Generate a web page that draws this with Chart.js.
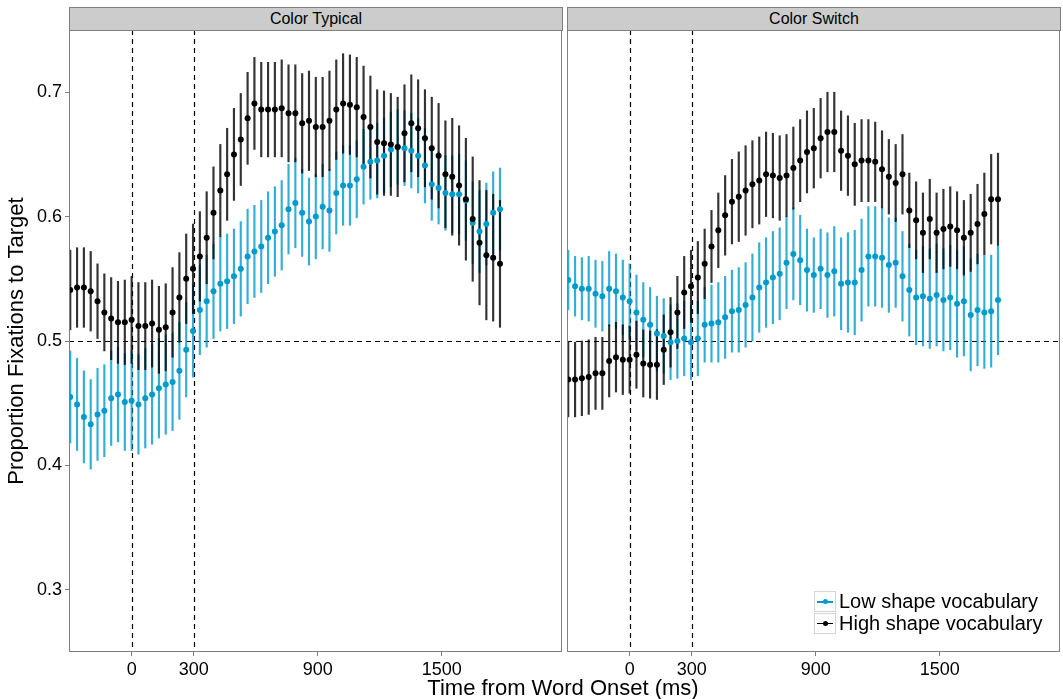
<!DOCTYPE html>
<html>
<head>
<meta charset="utf-8">
<script src="https://cdn.jsdelivr.net/npm/chart.js@4.4.0/dist/chart.umd.min.js"></script>
<style>
  body { margin: 0; background: #fff; width: 1063px; height: 699px; overflow: hidden; position: relative;
         font-family: "Liberation Sans", Arial, sans-serif; }
  .strip { position: absolute; top: 7px; height: 24px; box-sizing: border-box; background: #cccccc;
           border: 1px solid #7f7f7f; text-align: center; font-size: 16px; line-height: 22px; color: #000; }
  .panel { position: absolute; top: 30px; }
  .panel canvas { display: block; }
  #xtitle { position: absolute; left: 0; width: 1126px; top: 677px; text-align: center; font-size: 22px; line-height: 22px; }
  #legend { position: absolute; left: 814px; top: 591px; }
  .row { height: 21.5px; display: flex; align-items: center; }
  .key { position: relative; width: 22px; height: 21px; box-sizing: border-box; border: 1px solid #d4d4d4; background: #fff; margin-right: 3px; }
  .key .ln { position: absolute; left: 2px; right: 2px; top: 9px; height: 1.5px; }
  .key .dot { position: absolute; left: 8px; top: 7px; width: 5px; height: 5px; border-radius: 50%; }
  .lab { font-size: 20px; line-height: 21px; }
</style>
</head>
<body>
<div class="strip" style="left:69px;width:494px;">Color Typical</div>
<div class="strip" style="left:567px;width:494px;">Color Switch</div>
<div class="panel" style="left:0;"><canvas id="typical" width="563" height="669"></canvas></div>
<div class="panel" style="left:566px;"><canvas id="switch" width="497" height="669"></canvas></div>
<div id="xtitle">Time from Word Onset (ms)</div>
<div id="legend"></div>
<script>
// time bins (ms from word onset)
const TIME = [-297, -264, -231, -198, -165, -132, -99, -66, -33, 0, 33, 66, 99, 132, 165, 198,
  231, 264, 297, 330, 363, 396, 429, 462, 495, 528, 561, 594, 627, 660, 693, 726, 759, 792, 825,
  858, 891, 924, 957, 990, 1023, 1056, 1089, 1122, 1155, 1188, 1221, 1254, 1287, 1320, 1353, 1386,
  1419, 1452, 1485, 1518, 1551, 1584, 1617, 1650, 1683, 1716, 1749, 1782];

// Color Typical
const typicalLow = [0.455, 0.449, 0.439, 0.433, 0.441, 0.444, 0.454, 0.457, 0.451, 0.452, 0.449,
  0.454, 0.457, 0.462, 0.465, 0.467, 0.476, 0.493, 0.508, 0.525, 0.532, 0.540, 0.546, 0.548, 0.552,
  0.558, 0.568, 0.572, 0.576, 0.583, 0.588, 0.593, 0.606, 0.611, 0.603, 0.596, 0.600, 0.608, 0.605,
  0.619, 0.625, 0.625, 0.630, 0.640, 0.644, 0.645, 0.649, 0.654, 0.656, 0.655, 0.653, 0.649, 0.641,
  0.626, 0.623, 0.619, 0.618, 0.618, 0.613, 0.595, 0.588, 0.594, 0.603, 0.606];
const typicalLowErr = [0.037, 0.037, 0.037, 0.036, 0.037, 0.037, 0.038, 0.038, 0.039, 0.040, 0.040,
  0.040, 0.040, 0.040, 0.040, 0.039, 0.039, 0.038, 0.037, 0.036, 0.037, 0.038, 0.038, 0.038, 0.038,
  0.038, 0.038, 0.037, 0.037, 0.037, 0.036, 0.036, 0.036, 0.036, 0.035, 0.035, 0.034, 0.034, 0.033,
  0.033, 0.032, 0.032, 0.031, 0.030, 0.030, 0.030, 0.030, 0.030, 0.030, 0.030, 0.030, 0.030, 0.030,
  0.029, 0.029, 0.030, 0.031, 0.032, 0.032, 0.033, 0.033, 0.033, 0.033, 0.033];
const typicalHigh = [0.541, 0.543, 0.543, 0.540, 0.532, 0.523, 0.518, 0.515, 0.515, 0.517, 0.512,
  0.512, 0.514, 0.509, 0.511, 0.523, 0.535, 0.550, 0.558, 0.568, 0.583, 0.603, 0.621, 0.634, 0.650,
  0.662, 0.679, 0.691, 0.686, 0.686, 0.686, 0.687, 0.683, 0.683, 0.675, 0.677, 0.672, 0.672, 0.677,
  0.686, 0.691, 0.690, 0.688, 0.680, 0.672, 0.660, 0.659, 0.658, 0.656, 0.667, 0.675, 0.671, 0.663,
  0.655, 0.649, 0.634, 0.632, 0.625, 0.614, 0.598, 0.579, 0.569, 0.567, 0.562];
const typicalHighErr = [0.032, 0.032, 0.032, 0.032, 0.030, 0.031, 0.033, 0.033, 0.034, 0.035, 0.035,
  0.035, 0.035, 0.035, 0.035, 0.036, 0.036, 0.036, 0.036, 0.036, 0.037, 0.037, 0.037, 0.037, 0.037,
  0.037, 0.037, 0.037, 0.038, 0.038, 0.038, 0.039, 0.039, 0.039, 0.040, 0.040, 0.040, 0.040, 0.040,
  0.040, 0.040, 0.040, 0.040, 0.041, 0.041, 0.042, 0.042, 0.041, 0.040, 0.039, 0.039, 0.039, 0.039,
  0.041, 0.042, 0.043, 0.047, 0.048, 0.049, 0.050, 0.050, 0.052, 0.051, 0.051];

// Color Switch
const switchLow = [0.549, 0.544, 0.542, 0.542, 0.538, 0.536, 0.542, 0.540, 0.535, 0.532, 0.523,
  0.517, 0.513, 0.506, 0.504, 0.499, 0.500, 0.502, 0.499, 0.502, 0.513, 0.514, 0.515, 0.519, 0.524,
  0.525, 0.529, 0.535, 0.543, 0.547, 0.551, 0.554, 0.563, 0.570, 0.565, 0.557, 0.553, 0.558, 0.553,
  0.556, 0.546, 0.547, 0.547, 0.557, 0.568, 0.568, 0.567, 0.561, 0.563, 0.552, 0.541, 0.535, 0.536,
  0.534, 0.537, 0.533, 0.535, 0.530, 0.532, 0.521, 0.525, 0.523, 0.524, 0.533];
const switchLowErr = [0.024, 0.024, 0.025, 0.026, 0.027, 0.028, 0.030, 0.030, 0.030, 0.030, 0.030,
  0.030, 0.030, 0.030, 0.030, 0.030, 0.030, 0.030, 0.030, 0.030, 0.030, 0.031, 0.032, 0.033, 0.033,
  0.034, 0.034, 0.035, 0.036, 0.036, 0.037, 0.037, 0.037, 0.037, 0.036, 0.033, 0.030, 0.032, 0.034,
  0.036, 0.037, 0.040, 0.042, 0.041, 0.040, 0.040, 0.040, 0.038, 0.036, 0.036, 0.037, 0.038, 0.040,
  0.040, 0.041, 0.041, 0.042, 0.043, 0.044, 0.045, 0.045, 0.045, 0.045, 0.044];
const switchHigh = [0.469, 0.469, 0.470, 0.471, 0.474, 0.474, 0.484, 0.487, 0.485, 0.485, 0.489,
  0.482, 0.481, 0.481, 0.493, 0.507, 0.523, 0.539, 0.544, 0.551, 0.562, 0.576, 0.589, 0.601, 0.612,
  0.616, 0.621, 0.626, 0.629, 0.634, 0.633, 0.631, 0.633, 0.639, 0.645, 0.652, 0.655, 0.663, 0.668,
  0.668, 0.653, 0.649, 0.642, 0.645, 0.645, 0.644, 0.638, 0.632, 0.627, 0.634, 0.605, 0.597, 0.587,
  0.598, 0.587, 0.590, 0.592, 0.589, 0.583, 0.587, 0.594, 0.602, 0.614, 0.614];
const switchHighErr = [0.030, 0.030, 0.030, 0.030, 0.029, 0.029, 0.029, 0.028, 0.028, 0.027, 0.027,
  0.027, 0.027, 0.028, 0.028, 0.028, 0.029, 0.029, 0.029, 0.029, 0.028, 0.029, 0.030, 0.032, 0.034,
  0.036, 0.036, 0.035, 0.035, 0.034, 0.034, 0.034, 0.033, 0.033, 0.033, 0.033, 0.032, 0.032, 0.032,
  0.032, 0.032, 0.032, 0.033, 0.033, 0.033, 0.032, 0.031, 0.030, 0.031, 0.032, 0.030, 0.031, 0.032,
  0.032, 0.032, 0.032, 0.032, 0.031, 0.030, 0.031, 0.032, 0.033, 0.036, 0.037];

const X_TICKS = [0, 300, 900, 1500];
const Y_TICKS = [0.3, 0.4, 0.5, 0.6, 0.7];
const X_MIN = -303, X_MAX = 2082;
const Y_MIN = 0.25, Y_MAX = 0.75;
const REF_X = [0, 300];
const REF_Y = 0.5;

const SERIES = ['Low shape vocabulary', 'High shape vocabulary'];
const BLUE = '#009ACD';
const BLACK = '#000000';
const BLUE_BAR = 'rgba(0,154,205,0.8)';
const BLACK_BAR = 'rgba(0,0,0,0.8)';
const GREY = '#7f7f7f';
const FONT = '"Liberation Sans", Arial, sans-serif';

Chart.defaults.font.family = FONT;
Chart.defaults.color = '#000';

// dashed guide lines at word onset, +300 ms and chance
const refLines = {
  id: 'refLines',
  beforeDatasetsDraw(chart) {
    const { ctx, chartArea: a, scales: { x, y } } = chart;
    ctx.save();
    ctx.strokeStyle = '#000';
    ctx.lineWidth = 1.2;
    ctx.setLineDash([5, 4]);
    REF_X.forEach(v => {
      const px = Math.round(x.getPixelForValue(v)) + 0.5;
      ctx.beginPath(); ctx.moveTo(px, a.top); ctx.lineTo(px, a.bottom); ctx.stroke();
    });
    const py = Math.round(y.getPixelForValue(REF_Y)) + 0.5;
    ctx.beginPath(); ctx.moveTo(a.left, py); ctx.lineTo(a.right, py); ctx.stroke();
    ctx.restore();
  }
};

// grey panel border (theme_bw look)
const panelBox = {
  id: 'panelBox',
  afterDraw(chart) {
    const { ctx, chartArea: a } = chart;
    ctx.save();
    ctx.strokeStyle = GREY;
    ctx.lineWidth = 1;
    ctx.strokeRect(a.left + 0.5, a.top + 0.5, a.right - a.left - 1, a.bottom - a.top - 1);
    ctx.restore();
  }
};

function errBars(vals, errs, color, order) {
  return {
    type: 'bar',
    data: TIME.map((t, i) => ({ x: t, y: [vals[i] - errs[i], vals[i] + errs[i]] })),
    backgroundColor: color,
    borderWidth: 0,
    barThickness: 1.5,
    grouped: false,
    order: order
  };
}

function points(vals, color, order) {
  return {
    type: 'line',
    data: TIME.map((t, i) => ({ x: t, y: vals[i] })),
    showLine: false,
    pointRadius: 3,
    pointBorderWidth: 0,
    pointBackgroundColor: color,
    borderColor: color,
    order: order
  };
}

function makePanel(id, low, lowErr, high, highErr, showY) {
  return new Chart(document.getElementById(id), {
    type: 'bar',
    data: {
      datasets: [
        points(high, BLACK, 0),
        points(low, BLUE, 1),
        errBars(high, highErr, BLACK_BAR, 2),
        errBars(low, lowErr, BLUE_BAR, 3)
      ]
    },
    options: {
      responsive: false,
      animation: false,
      events: [],
      layout: { autoPadding: false, padding: { left: showY ? 0 : 1, right: showY ? 1 : 3, top: 0, bottom: 0 } },
      plugins: { legend: { display: false }, tooltip: { enabled: false } },
      scales: {
        x: {
          type: 'linear',
          min: X_MIN,
          max: X_MAX,
          offset: false,
          afterBuildTicks: s => { s.ticks = X_TICKS.map(v => ({ value: v })); },
          afterFit: s => { s.height = 47; s.paddingLeft = 0; s.paddingRight = 0; },
          grid: { drawOnChartArea: false, offset: false, tickLength: 4, color: GREY },
          border: { display: false },
          ticks: { font: { size: 18 }, padding: 3, maxRotation: 0, autoSkip: false, callback: v => String(v) }
        },
        y: {
          display: showY,
          min: Y_MIN,
          max: Y_MAX,
          afterBuildTicks: s => { s.ticks = Y_TICKS.map(v => ({ value: v })); },
          afterFit: s => { s.width = showY ? 69 : 0; s.paddingTop = 0; s.paddingBottom = 0; },
          grid: { drawOnChartArea: false, tickLength: 4, color: GREY },
          border: { display: false },
          ticks: { font: { size: 18 }, padding: 3, callback: v => v.toFixed(1) },
          title: { display: true, text: 'Proportion Fixations to Target', font: { size: 22 }, padding: { top: 4, bottom: 0 } }
        }
      }
    },
    plugins: [refLines, panelBox]
  });
}

makePanel('typical', typicalLow, typicalLowErr, typicalHigh, typicalHighErr, true);
makePanel('switch', switchLow, switchLowErr, switchHigh, switchHighErr, false);

// legend (inside the Color Switch panel)
const legend = document.getElementById('legend');
[BLUE, BLACK].forEach((c, k) => {
  const row = document.createElement('div');
  row.className = 'row';
  row.innerHTML = '<span class="key"><i class="ln" style="background:' + c + '"></i>' +
    '<i class="dot" style="background:' + c + '"></i></span><span class="lab">' + SERIES[k] + '</span>';
  legend.appendChild(row);
});
</script>
</body>
</html>
